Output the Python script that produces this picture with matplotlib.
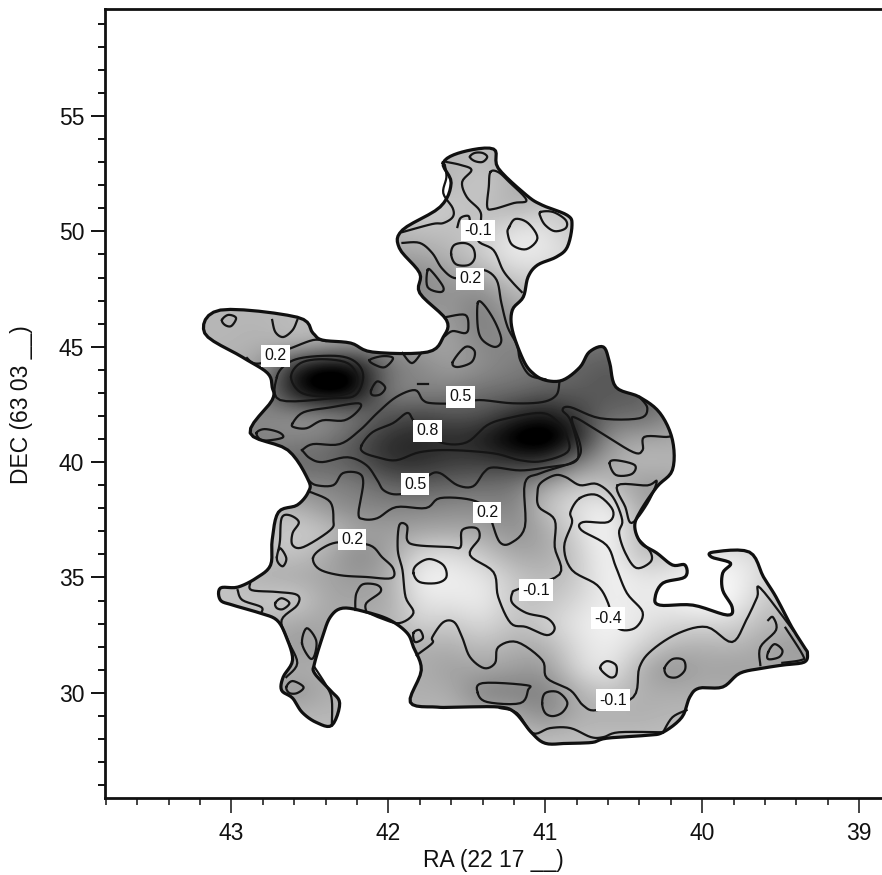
import numpy as np
import matplotlib
matplotlib.use("Agg")
import matplotlib.pyplot as plt
from matplotlib.patches import Polygon
from matplotlib.ticker import FixedLocator, FixedFormatter

plt.rcParams['font.family'] = ['Liberation Sans', 'DejaVu Sans']

# gray field, read by eye, one row per arcsec of DEC
field_ra = [43.2, 43.0, 42.8, 42.6, 42.4, 42.2, 42.0, 41.8, 41.6, 41.4, 41.2, 41.0, 40.8, 40.6, 40.4, 40.2, 40.0, 39.8, 39.6, 39.4, 39.2]
field_dec = [53, 52, 51, 50, 49, 48, 47, 46, 45, 44, 43, 42, 41, 40, 39, 38, 37, 36, 35, 34, 33, 32, 31, 30, 29, 28]
field = [
    [0, 0, 0, 0, 0, 0, 0, 0, 0, -.05, .05, .05, 0, 0, 0, 0, 0, 0, 0, 0, 0],
    [0, 0, 0, 0, 0, 0, 0, 0, 0, -.15, .05, .05, 0, 0, 0, 0, 0, 0, 0, 0, 0],
    [0, 0, 0, 0, 0, 0, 0, -.2, -.1, -.05, .05, -.1, -.1, -.1, 0, 0, 0, 0, 0, 0, 0],
    [0, 0, 0, 0, 0, 0, 0, -.05, -.05, -.1, -.3, -.3, -.05, -.05, 0, 0, 0, 0, 0, 0, 0],
    [0, 0, 0, 0, 0, 0, .1, .1, 0, -.15, -.35, -.3, -.2, -.1, 0, 0, 0, 0, 0, 0, 0],
    [0, 0, 0, 0, 0, 0, .35, .3, .15, .1, -.15, -.15, -.1, 0, 0, 0, 0, 0, 0, 0, 0],
    [0, 0, 0, 0, 0, 0, .25, .25, .2, .35, .05, 0, 0, 0, 0, 0, 0, 0, 0, 0, 0],
    [0, 0, 0, -.05, -.05, .05, .15, .15, .15, .4, .15, .2, .2, .2, 0, 0, 0, 0, 0, 0, 0],
    [0, 0, .05, 0, .1, .2, .2, .15, .1, .3, .3, .35, .4, .45, .4, 0, 0, 0, 0, 0, 0],
    [.05, .05, .15, 1.0, 1.3, 1.15, .4, .3, .15, .25, .35, .4, .5, .6, .5, .4, 0, 0, 0, 0, 0],
    [.1, .2, .3, 1.0, 1.3, 1.1, .3, .3, .35, .45, .45, .55, .55, .6, .55, .4, 0, 0, 0, 0, 0],
    [.25, .25, .3, .2, .2, .35, .6, .7, .6, .6, .85, 1.0, .75, .45, .5, .3, 0, 0, 0, 0, 0],
    [.35, .35, .3, .3, .35, .6, .85, .9, .85, .95, 1.25, 1.35, 1.0, .2, .1, .1, 0, 0, 0, 0, 0],
    [.3, .3, .4, .5, .5, .6, .85, .85, .75, .75, .8, .85, .35, .1, -.05, 0, 0, 0, 0, 0, 0],
    [.2, .2, .2, .3, .3, .35, .5, .55, .5, .45, .4, .1, -.1, -.05, .2, .15, 0, 0, 0, 0, 0],
    [0, 0, 0, 0, .2, .3, .3, .3, .25, .25, .35, -.1, -.25, -.4, .1, .1, 0, 0, 0, 0, 0],
    [0, 0, -.05, -.15, -.1, .1, .15, .1, .1, .1, .25, .1, -.2, -.45, 0, 0, 0, 0, 0, 0, 0],
    [0, 0, -.05, -.1, .05, .3, .15, -.2, -.25, -.1, .1, .1, -.1, -.45, 0, -.1, -.3, -.3, -.2, 0, 0],
    [-.05, -.05, .05, .1, .1, .2, .1, -.4, -.35, -.3, -.1, 0, -.1, -.4, -.3, -.3, -.4, -.4, -.2, 0, 0],
    [-.1, -.1, -.1, -.2, .1, .1, .1, -.3, -.3, -.35, -.1, -.05, -.2, -.35, -.3, -.35, -.45, -.4, -.1, -.05, 0],
    [0, 0, 0, .1, .1, .05, .05, -.2, -.1, -.25, -.05, -.15, -.3, -.4, -.3, -.2, -.2, -.2, 0, 0, 0],
    [0, 0, 0, .2, .1, .05, .05, .05, .05, -.05, .05, .05, -.25, -.35, -.2, 0, .05, 0, .1, .2, .1],
    [0, 0, 0, .05, .05, .05, .05, .05, .15, .1, .15, .2, -.2, -.35, .05, .25, .1, .15, .1, .1, .1],
    [0, 0, 0, .25, .05, .05, .05, .05, .05, .35, .35, .35, .05, -.1, .05, .05, .05, .05, 0, 0, 0],
    [0, 0, 0, 0, 0, 0, 0, 0, 0, .05, .05, .3, .05, .05, .05, 0, 0, 0, 0, 0, 0],
    [-.05, -.05, -.05, -.05, -.05, -.05, -.05, -.05, -.05, -.05, -.05, -.05, -.05, -.05, -.05, -.05, -.05, -.05, -.05, -.05, -.05],
]

# edge of the mapped region as (RA, DEC)
outline = [(41.65, 52.97), (41.53, 53.44), (41.33, 53.57), (41.30, 52.74), (41.12, 51.57), (41.02, 51.14), (40.86, 50.70), (40.83, 50.27), (40.86, 49.32), (40.93, 48.89), (41.05, 48.54), (41.11, 48.02), (41.14, 47.16), (41.21, 46.59), (41.21, 45.72), (41.14, 44.42), (41.08, 43.86), (41.00, 43.55), (40.89, 43.55), (40.78, 44.11), (40.72, 44.77), (40.63, 44.99), (40.59, 44.30), (40.55, 43.25), (40.40, 42.82), (40.27, 42.13), (40.19, 40.96), (40.19, 39.66), (40.29, 38.92), (40.40, 37.80), (40.43, 37.19), (40.39, 36.50), (40.29, 36.06), (40.19, 35.54), (40.11, 35.54), (40.11, 35.02), (40.25, 34.76), (40.30, 34.15), (40.27, 33.80), (40.06, 33.80), (39.84, 33.37), (39.81, 33.72), (39.87, 34.45), (39.87, 35.19), (39.82, 35.62), (39.94, 35.88), (39.93, 36.10), (39.70, 36.10), (39.61, 35.02), (39.53, 34.15), (39.43, 32.85), (39.35, 31.98), (39.33, 31.72), (39.35, 31.33), (39.49, 31.20), (39.61, 31.07), (39.76, 30.85), (39.87, 30.25), (40.02, 30.20), (40.08, 29.81), (40.13, 28.94), (40.25, 28.29), (40.35, 28.16), (40.61, 28.03), (40.70, 27.85), (40.86, 27.81), (41.00, 27.81), (41.09, 28.29), (41.19, 29.12), (41.29, 29.38), (41.56, 29.38), (41.69, 29.38), (41.86, 29.59), (41.79, 30.98), (41.84, 31.98), (41.88, 32.59), (41.99, 33.15), (42.14, 33.50), (42.29, 33.67), (42.37, 33.28), (42.42, 32.41), (42.47, 31.28), (42.47, 30.85), (42.37, 30.11), (42.31, 29.55), (42.36, 28.59), (42.46, 28.72), (42.55, 29.16), (42.61, 29.77), (42.68, 30.11), (42.67, 30.68), (42.61, 31.42), (42.65, 32.42), (42.71, 33.15), (42.82, 33.46), (42.99, 33.80), (43.07, 34.02), (43.07, 34.54), (42.96, 34.58), (42.84, 34.98), (42.75, 35.54), (42.74, 36.62), (42.70, 37.83), (42.58, 38.14), (42.51, 38.70), (42.51, 39.22), (42.64, 40.52), (42.88, 41.26), (42.74, 42.69), (42.74, 43.25), (42.77, 43.86), (42.93, 44.55), (43.17, 45.59), (43.07, 46.59), (42.58, 46.28), (42.48, 45.59), (42.42, 45.29), (42.24, 45.16), (42.10, 44.77), (41.75, 44.77), (41.65, 45.42), (41.63, 46.16), (41.80, 47.33), (41.80, 48.19), (41.93, 49.28), (41.91, 50.06), (41.67, 51.06), (41.60, 52.10)]

# contours that close on themselves
north_small = [(41.48, 53.23), (41.45, 53.40), (41.40, 53.40), (41.37, 53.23), (41.40, 53.01), (41.45, 53.05)]
north_triangle = [(41.35, 52.57), (41.30, 52.57), (41.23, 52.14), (41.12, 51.36), (41.20, 51.23), (41.33, 50.97), (41.37, 51.06), (41.36, 51.93)]
north_white = [(41.23, 50.19), (41.19, 50.54), (41.11, 50.36), (41.05, 49.71), (41.12, 49.23), (41.21, 49.41), (41.24, 49.93)]
north_right = [(41.03, 50.84), (40.95, 50.84), (40.87, 50.49), (40.87, 50.14), (40.94, 50.01), (41.00, 50.27), (41.03, 50.62)]
north_circle = [(41.60, 49.02), (41.58, 49.41), (41.51, 49.49), (41.46, 49.28), (41.45, 48.84), (41.49, 48.54), (41.57, 48.58)]
neck_dark = [(41.75, 48.32), (41.72, 48.24), (41.65, 47.59), (41.67, 47.37), (41.75, 47.59)]
neck_long = [(41.43, 46.90), (41.39, 46.81), (41.32, 46.07), (41.28, 45.29), (41.32, 44.99), (41.40, 45.29), (41.43, 45.85)]
neck_small = [(41.59, 44.33), (41.51, 44.99), (41.45, 44.81), (41.47, 44.33), (41.56, 44.12)]
west_small = [(43.06, 46.16), (43.02, 46.38), (42.97, 46.25), (43.00, 45.90), (43.04, 45.94)]
peak_west_mid = [(42.71, 43.69), (42.64, 44.29), (42.52, 44.55), (42.31, 44.59), (42.20, 44.29), (42.16, 43.69), (42.21, 42.90), (42.35, 42.77), (42.69, 42.69)]
peak_west_high = [(42.62, 43.69), (42.56, 44.29), (42.42, 44.46), (42.26, 44.29), (42.20, 43.69), (42.24, 43.03), (42.42, 42.86), (42.56, 43.03)]
spot_a = [(42.12, 44.42), (42.04, 44.59), (41.97, 44.51), (42.02, 44.12), (42.08, 44.20)]
spot_b = [(42.11, 43.11), (42.07, 43.50), (42.02, 43.24), (42.05, 42.94), (42.10, 42.90)]
ridge_light = [(42.61, 41.68), (42.54, 42.16), (42.37, 42.37), (42.19, 42.55), (42.19, 42.25), (42.28, 41.81), (42.42, 41.81), (42.52, 41.47), (42.60, 41.51)]
west_dark = [(42.84, 41.26), (42.79, 41.43), (42.70, 41.30), (42.67, 41.08), (42.74, 40.96), (42.81, 40.96)]
ridge_08 = [(42.17, 40.73), (42.10, 41.30), (41.97, 41.69), (41.88, 42.13), (41.84, 41.81), (41.77, 41.30), (41.65, 40.82), (41.50, 40.86), (41.37, 41.60), (41.24, 41.90), (41.03, 42.13), (40.93, 41.81), (40.86, 41.08), (40.86, 40.43), (41.02, 40.04), (41.16, 40.08), (41.33, 40.38), (41.61, 40.52), (41.80, 40.43), (41.95, 40.08), (42.07, 40.21), (42.16, 40.43)]
east_white = [(40.59, 39.95), (40.55, 40.08), (40.43, 39.87), (40.45, 39.48), (40.55, 39.44)]
east_triangle = [(40.54, 38.99), (40.35, 38.99), (40.29, 39.16), (40.35, 38.20), (40.45, 37.36), (40.49, 38.05)]
valley_04 = [(40.78, 38.44), (40.67, 38.57), (40.57, 37.92), (40.60, 37.40), (40.76, 37.40), (40.77, 37.05), (40.61, 36.40), (40.55, 35.45), (40.48, 34.32), (40.38, 33.50), (40.42, 32.85), (40.51, 32.72), (40.57, 33.07), (40.60, 33.89), (40.67, 34.67), (40.83, 35.32), (40.88, 36.32), (40.83, 37.36), (40.84, 37.83)]
south_blob = [(42.48, 35.84), (42.42, 36.27), (42.31, 36.53), (42.12, 36.40), (42.04, 35.88), (41.97, 35.40), (41.98, 34.97), (42.14, 35.02), (42.31, 35.10), (42.44, 35.36)]
sw_small_a = [(42.71, 35.88), (42.69, 36.27), (42.65, 35.84), (42.67, 35.49), (42.70, 35.62)]
center_white = [(41.84, 35.19), (41.82, 35.54), (41.74, 35.80), (41.65, 35.54), (41.63, 35.02), (41.69, 34.76), (41.80, 34.80)]
sw_ring = [(42.72, 33.89), (42.68, 34.10), (42.63, 33.89), (42.67, 33.63), (42.71, 33.67)]
sw_small_b = [(42.55, 32.15), (42.52, 32.80), (42.46, 32.28), (42.47, 31.63), (42.50, 31.50)]
sw_small_c = [(42.65, 30.25), (42.61, 30.51), (42.54, 30.25), (42.58, 29.99), (42.63, 29.99)]
square_spot = [(41.84, 32.59), (41.80, 32.72), (41.78, 32.37), (41.83, 32.20)]
south_box = [(41.43, 29.99), (41.40, 30.42), (41.12, 30.33), (41.11, 30.12), (41.16, 29.55), (41.37, 29.60)]
south_round = [(41.02, 29.55), (41.00, 29.99), (40.92, 30.03), (40.86, 29.59), (40.89, 29.16), (40.95, 28.99), (41.00, 29.12)]
south_white = [(40.65, 31.07), (40.61, 31.37), (40.55, 31.20), (40.55, 30.77), (40.59, 30.68)]
se_round = [(40.24, 31.07), (40.19, 31.46), (40.12, 31.42), (40.11, 31.00), (40.16, 30.68), (40.22, 30.72)]
corner_dark = [(39.58, 31.76), (39.54, 32.11), (39.49, 31.85), (39.51, 31.55), (39.58, 31.46)]
closed_contours = [north_small, north_triangle, north_white, north_right, north_circle, neck_dark, neck_long, neck_small, west_small, peak_west_mid, peak_west_high, spot_a, spot_b, ridge_light, west_dark, ridge_08, east_white, east_triangle, valley_04, south_blob, sw_small_a, center_white, sw_ring, sw_small_b, sw_small_c, square_spot, south_box, south_round, south_white, se_round, corner_dark]

# contours that run into the edge
north_left = [(41.64, 52.88), (41.63, 52.35), (41.65, 51.66), (41.59, 51.01), (41.59, 50.62), (41.65, 50.36), (41.72, 50.32), (41.91, 49.97)]
north_loop = [(41.63, 53.01), (41.54, 52.88), (41.47, 52.66), (41.53, 52.14), (41.50, 51.49), (41.42, 50.93), (41.41, 50.49), (41.43, 49.62), (41.33, 49.19), (41.27, 48.32), (41.21, 47.80), (41.15, 47.37)]
north_hook = [(41.56, 50.19), (41.54, 50.58), (41.49, 50.67), (41.48, 50.40)]
neck_02 = [(41.91, 49.50), (41.80, 49.50), (41.72, 49.06), (41.66, 48.41), (41.58, 47.98), (41.48, 48.11), (41.39, 48.32), (41.31, 47.89), (41.28, 46.90), (41.24, 45.85), (41.18, 45.07), (41.16, 44.42), (41.10, 43.77), (41.00, 43.59)]
neck_bay = [(41.63, 46.29), (41.51, 46.38), (41.49, 45.85), (41.51, 45.59), (41.59, 45.68), (41.64, 45.46)]
west_bay = [(42.74, 46.16), (42.72, 45.64), (42.67, 45.42), (42.61, 45.72), (42.58, 46.16)]
west_02 = [(42.90, 44.51), (42.86, 44.29), (42.79, 44.33), (42.69, 44.77), (42.62, 44.94), (42.48, 45.29), (42.40, 45.25)]
top_notch = [(41.91, 44.73), (41.85, 44.29), (41.79, 44.73)]
ridge_05_top = [(42.55, 40.52), (42.48, 40.78), (42.31, 40.78), (42.18, 41.39), (42.07, 42.13), (41.95, 42.82), (41.83, 43.12), (41.78, 42.69), (41.72, 42.55), (41.54, 42.55), (41.42, 42.69), (41.21, 42.55), (41.02, 42.60), (40.93, 42.90), (40.91, 43.46)]
ridge_05_bottom = [(42.55, 40.52), (42.50, 40.17), (42.42, 40.00), (42.26, 40.21), (42.14, 39.87), (42.07, 39.21), (42.03, 38.78), (41.95, 38.60), (41.83, 38.78), (41.74, 39.43), (41.67, 39.52), (41.56, 39.00), (41.46, 38.95), (41.39, 39.56), (41.33, 39.77), (41.16, 39.64), (40.99, 39.77), (40.82, 39.98), (40.79, 40.52), (40.84, 41.81), (40.89, 42.25), (40.84, 42.38), (40.65, 41.90), (40.40, 41.90), (40.35, 42.34), (40.40, 42.82)]
dash_mark = [(41.81, 43.37), (41.75, 43.37)]
ridge_02 = [(42.51, 39.22), (42.46, 39.00), (42.35, 39.00), (42.29, 39.52), (42.19, 39.52), (42.16, 39.09), (42.19, 37.79), (42.16, 37.53), (42.07, 37.57), (41.95, 38.05), (41.76, 38.01), (41.67, 38.44), (41.47, 38.36), (41.36, 37.92), (41.34, 37.40), (41.29, 36.53), (41.22, 36.49), (41.13, 37.19), (41.13, 39.09), (41.03, 39.52), (40.84, 39.95), (40.78, 40.30), (40.78, 40.82), (40.83, 41.81), (40.80, 41.90), (40.65, 41.29), (40.44, 40.43), (40.38, 40.52), (40.37, 41.09), (40.23, 41.09), (40.20, 41.13)]
long_01 = [(42.14, 33.50), (42.05, 33.24), (41.93, 33.02), (41.84, 33.46), (41.89, 34.15), (41.91, 35.32), (41.94, 36.19), (41.93, 37.27), (41.88, 37.23), (41.88, 36.62), (41.82, 36.40), (41.61, 36.32), (41.54, 36.32), (41.53, 37.05), (41.44, 37.14), (41.42, 36.71), (41.48, 35.97), (41.33, 35.23), (41.30, 34.15), (41.22, 33.02), (41.12, 32.85), (40.99, 32.50), (40.94, 32.80), (40.99, 33.24), (41.12, 33.46), (41.21, 33.89), (41.21, 34.32), (41.17, 34.50), (40.91, 35.13), (40.94, 36.32), (40.94, 37.49), (41.04, 38.05), (41.05, 38.66), (41.03, 39.09), (40.94, 39.43), (40.87, 39.35), (40.78, 39.00), (40.67, 39.05), (40.57, 38.49), (40.51, 37.49), (40.53, 36.92), (40.49, 36.06), (40.42, 35.41), (40.33, 35.67), (40.33, 36.10), (40.40, 36.62)]
sw_lobe = [(42.51, 38.70), (42.48, 38.66), (42.37, 38.27), (42.35, 37.49), (42.37, 37.05), (42.54, 36.32), (42.61, 36.40), (42.61, 36.92), (42.57, 37.40), (42.63, 37.70), (42.68, 37.57), (42.69, 36.62), (42.70, 36.19)]
sw_arm = [(42.88, 34.76), (42.87, 34.45), (42.71, 34.37), (42.58, 34.24), (42.58, 33.80), (42.68, 33.15), (42.64, 32.28), (42.58, 31.29), (42.65, 30.68)]
sw_tip = [(42.96, 34.45), (42.93, 34.02), (42.81, 33.72), (42.81, 33.46)]
sw_inner = [(42.47, 31.11), (42.39, 30.25), (42.36, 29.68), (42.36, 28.59)]
south_lobe = [(42.21, 33.59), (42.21, 34.02), (42.20, 34.37), (42.16, 34.71), (42.07, 34.67), (42.05, 34.37), (42.14, 33.89), (42.14, 33.50)]
south_01 = [(41.82, 31.63), (41.72, 32.15), (41.72, 32.41), (41.65, 33.06), (41.58, 33.06), (41.53, 32.41), (41.48, 31.55), (41.39, 31.07), (41.32, 31.29), (41.30, 31.98), (41.18, 32.20), (41.02, 31.42), (40.99, 30.64), (40.84, 30.11), (40.76, 29.46), (40.67, 29.25), (40.44, 29.81), (40.40, 31.11), (40.32, 31.85), (40.15, 32.59), (39.97, 32.85), (39.81, 32.20), (39.72, 33.15), (39.65, 34.15), (39.63, 34.54), (39.42, 32.70)]
corner_loop = [(39.58, 33.15), (39.55, 33.28), (39.53, 32.72), (39.63, 31.98), (39.63, 31.20)]
corner_inner = [(39.47, 32.82), (39.36, 31.64), (39.37, 31.42), (39.49, 31.30)]
south_inner = [(41.29, 29.34), (41.18, 29.12), (41.08, 28.25), (40.97, 28.47), (40.84, 28.47), (40.71, 28.08), (40.63, 28.08), (40.53, 28.29), (40.25, 28.29)]
south_inner_b = [(40.25, 28.29), (40.19, 28.94), (40.10, 29.25)]
open_contours = [north_left, north_loop, north_hook, neck_02, neck_bay, west_bay, west_02, top_notch, ridge_05_top, ridge_05_bottom, dash_mark, ridge_02, long_01, sw_lobe, sw_arm, sw_tip, sw_inner, south_lobe, south_01, corner_loop, corner_inner, south_inner, south_inner_b]

label_text = ['-0.1', '0.2', '0.2', '0.5', '0.8', '0.5', '0.2', '0.2', '-0.1', '-0.4', '-0.1']
label_ra = [41.43, 41.48, 42.72, 41.54, 41.75, 41.83, 41.37, 42.23, 41.06, 40.60, 40.57]
label_dec = [50.03, 47.94, 44.60, 42.83, 41.35, 39.05, 37.82, 36.65, 34.45, 33.24, 29.68]

ra_ticks = [43, 42, 41, 40, 39]
dec_ticks = [55, 50, 45, 40, 35, 30]


def smooth(points, closed, steps=6):
    # catmull-rom through the traced points so small rings keep their size
    pts = np.array(points, dtype=float)
    if closed:
        pts = np.vstack([pts[-1], pts, pts[0], pts[1]])
    else:
        pts = np.vstack([pts[0], pts, pts[-1]])
    t = np.linspace(0, 1, steps, endpoint=False)[:, None]
    out = []
    for i in range(1, len(pts) - 2):
        p0, p1, p2, p3 = pts[i - 1], pts[i], pts[i + 1], pts[i + 2]
        out.append(0.5 * (2 * p1 + (p2 - p0) * t + (2 * p0 - 5 * p1 + 4 * p2 - p3) * t ** 2 + (3 * p1 - p0 - 3 * p2 + p3) * t ** 3))
    out = np.vstack(out)
    return np.vstack([out, pts[-2]])


fig = plt.figure(figsize=(8.82, 8.75), dpi=100)
ax = fig.add_axes([105 / 882, 77 / 875, 777 / 882, 789 / 875])

edge = smooth(outline, True)
clip = Polygon(edge, closed=True, transform=ax.transData, facecolor='none', edgecolor='none')
ax.add_patch(clip)

img = ax.imshow(field, cmap='gray_r', vmin=-0.45, vmax=1.12, interpolation='bicubic', aspect='auto',
                extent=[field_ra[0] + 0.1, field_ra[-1] - 0.1, field_dec[-1] - 0.5, field_dec[0] + 0.5])
img.set_clip_path(clip)

for c in closed_contours:
    p = smooth(c, True)
    ax.plot(p[:, 0], p[:, 1], color='#151515', lw=1.6)
for c in open_contours:
    p = smooth(c, False)
    ax.plot(p[:, 0], p[:, 1], color='#151515', lw=1.6)
ax.plot(edge[:, 0], edge[:, 1], color='#101010', lw=2.3)

for t, r, d in zip(label_text, label_ra, label_dec):
    ax.text(r, d, t, fontsize=11.5, ha='center', va='center', color='#111111',
            bbox=dict(boxstyle='square,pad=0.2', facecolor='white', edgecolor='none'))

ax.set_xlim(43.805, 38.855)
ax.set_ylim(25.44, 59.64)

ax.xaxis.set_major_locator(FixedLocator(ra_ticks))
ax.xaxis.set_major_formatter(FixedFormatter([str(v) for v in ra_ticks]))
ax.xaxis.set_minor_locator(FixedLocator(np.arange(38.8, 43.9, 0.2)))
ax.yaxis.set_major_locator(FixedLocator(dec_ticks))
ax.yaxis.set_major_formatter(FixedFormatter([str(v) for v in dec_ticks]))
ax.yaxis.set_minor_locator(FixedLocator(np.arange(26, 60, 1)))

ax.tick_params(axis='x', which='major', length=10.5, width=1.1, labelsize=16.5, pad=7, color='#111111', labelcolor='#111111')
ax.tick_params(axis='x', which='minor', length=5, width=1.1, color='#111111')
ax.tick_params(axis='y', which='major', length=10, width=1.4, labelsize=16.5, pad=5, color='#111111', labelcolor='#111111')
ax.tick_params(axis='y', which='minor', length=5, width=1.4, color='#111111')

ax.spines['right'].set_visible(False)
for s in ['left', 'bottom', 'top']:
    ax.spines[s].set_linewidth(2.0)
    ax.spines[s].set_color('#111111')

ax.set_xlabel('RA (22 17 __)', fontsize=16.5, color='#111111', va='center')
ax.xaxis.set_label_coords(0.5, -0.0786)
ax.set_ylabel('DEC (63 03 __)', fontsize=16.5, color='#111111', va='center')
ax.yaxis.set_label_coords(-0.107, 0.499)

fig.savefig('out.png', dpi=100)
